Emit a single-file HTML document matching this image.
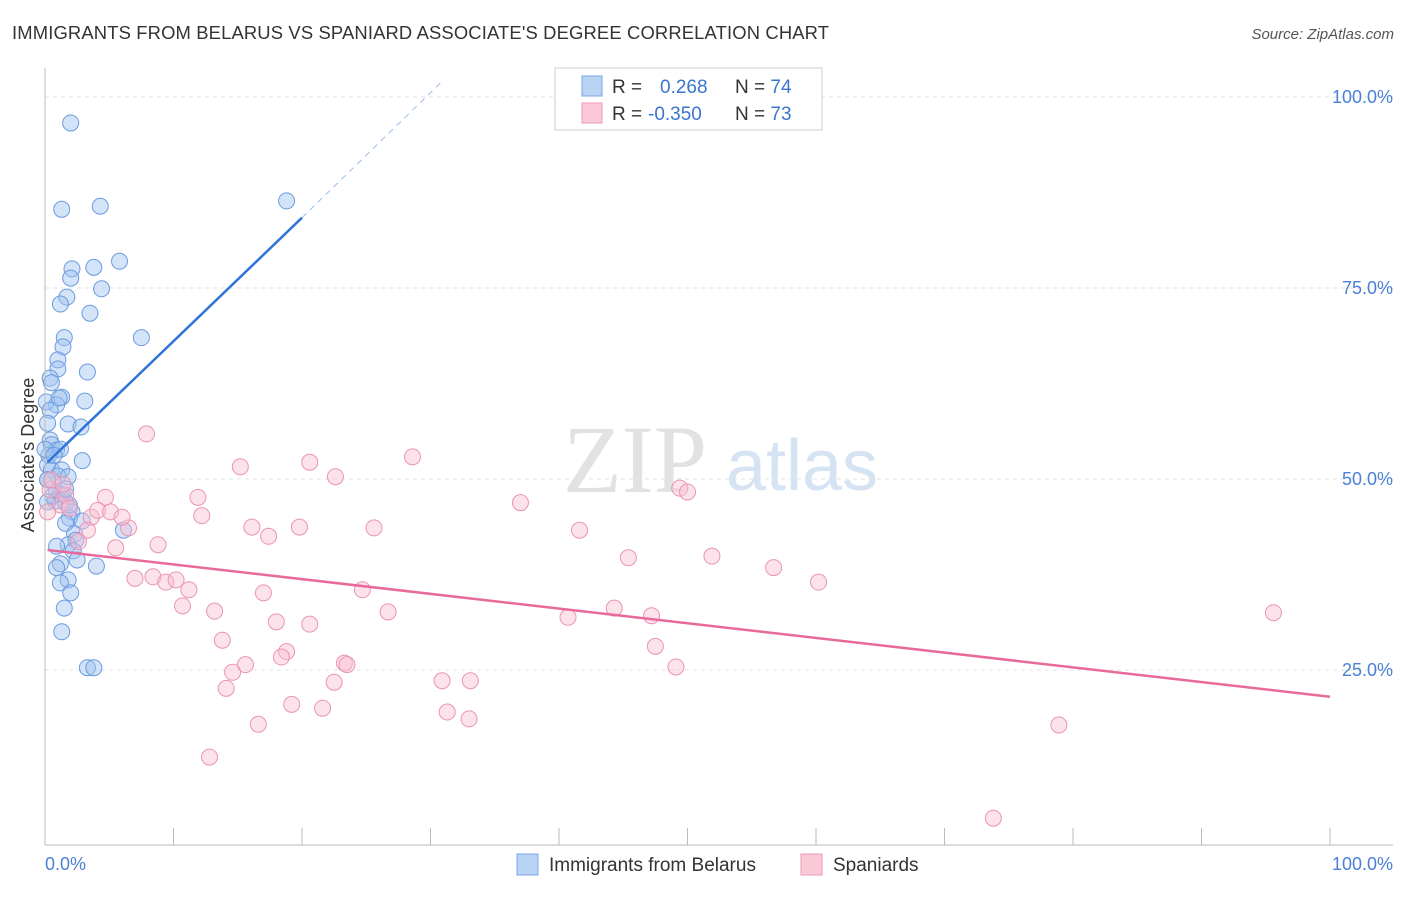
<!DOCTYPE html>
<html><head><meta charset="utf-8"><style>
body{margin:0;background:#fff;font-family:"Liberation Sans",sans-serif}
</style></head><body>
<svg id="chart" width="1406" height="892" font-family="Liberation Sans, sans-serif">
<text x="12" y="39" font-size="18.4" letter-spacing="0.15" fill="#333">IMMIGRANTS FROM BELARUS VS SPANIARD ASSOCIATE'S DEGREE CORRELATION CHART</text>
<text x="1394" y="39" font-size="15" fill="#555" font-style="italic" text-anchor="end">Source: ZipAtlas.com</text>
<text x="635" y="492" font-size="96" fill="#e2e2e2" font-family="Liberation Serif, serif" text-anchor="middle">ZIP</text>
<text x="802" y="490" font-size="72" fill="#d6e3f3" text-anchor="middle">atlas</text>
<g id="grid"></g>
<g id="marks"></g>
<line x1="45" y1="845" x2="1393" y2="845" stroke="#bbb"/>
<line x1="45" y1="68" x2="45" y2="845" stroke="#bbb"/>
<text x="34" y="455" font-size="18" fill="#333" text-anchor="middle" transform="rotate(-90 34 455)">Associate's Degree</text>
<text x="45" y="870" font-size="18" fill="#4a80d6">0.0%</text>
<text x="1393" y="870" font-size="18" fill="#4a80d6" text-anchor="end">100.0%</text>
<rect x="555" y="68" width="267" height="62" fill="#fff" stroke="#ccc"/>
<rect x="582" y="76" width="20" height="20" fill="#b9d3f5" stroke="#7aa6e6"/>
<rect x="582" y="103" width="20" height="20" fill="#f9c9d8" stroke="#ee9ab5"/>
<text x="612" y="93" font-size="19" fill="#333">R = <tspan fill="#3a75d0" x="660">0.268</tspan><tspan x="735" fill="#333">N = </tspan><tspan fill="#3a75d0">74</tspan></text>
<text x="612" y="120" font-size="19" fill="#333">R = <tspan fill="#3a75d0" x="648">-0.350</tspan><tspan x="735" fill="#333">N = </tspan><tspan fill="#3a75d0">73</tspan></text>
<rect x="517" y="854" width="21" height="21" fill="#b9d3f5" stroke="#7aa6e6"/>
<text x="549" y="871" font-size="19" fill="#333">Immigrants from Belarus</text>
<rect x="801" y="854" width="21" height="21" fill="#f9c9d8" stroke="#ee9ab5"/>
<text x="833" y="871" font-size="19" fill="#333">Spaniards</text>
</svg>
<script>
const yTicks=[25,50,75,100];
const xTicks=[0,10,20,30,40,50,60,70,80,90,100];
const bluePx=[[71,123],[62,209],[100,206],[287,201],[72,269],[94,267],[119,261],[71,278],[67,297],[60,304],[102,289],[90,313],[64,338],[142,338],[63,347],[58,360],[58,369],[88,372],[50,378],[52,383],[85,401],[62,397],[57,405],[46,402],[50,410],[48,423],[68,424],[81,427],[50,440],[52,445],[57,450],[61,449],[49,455],[82,461],[47,465],[52,470],[62,470],[58,476],[68,477],[48,480],[57,491],[60,494],[63,495],[55,501],[65,503],[72,512],[69,518],[82,521],[66,523],[124,530],[74,534],[76,540],[68,545],[56,546],[73,551],[77,560],[60,564],[57,568],[96,566],[68,580],[61,583],[71,593],[64,608],[62,632],[87,668],[94,668],[47,480],[53,496],[48,502],[45,449],[70,505],[66,489],[54,455],[59,398]];
const pinkPx=[[147,434],[240,467],[310,462],[336,477],[413,457],[520,503],[580,530],[680,488],[688,492],[105,497],[198,497],[202,516],[252,527],[268,536],[299,527],[374,528],[628,558],[712,556],[773,568],[818,582],[1274,613],[128,528],[116,548],[158,545],[135,578],[153,577],[166,582],[176,580],[189,590],[183,606],[215,611],[263,593],[362,590],[388,612],[568,617],[614,608],[651,616],[656,646],[676,667],[222,640],[276,622],[310,624],[286,652],[281,657],[245,665],[232,672],[226,688],[334,682],[344,663],[347,665],[442,681],[470,681],[292,704],[322,708],[258,724],[447,712],[469,719],[210,757],[1059,725],[993,818],[91,517],[98,510],[110,512],[122,517],[87,530],[78,542],[60,505],[65,495],[70,508],[50,490],[48,512],[52,480],[63,484]];
const blueX=bluePx.map(p=>+((p[0]-45)/12.85).toFixed(1));
const blueY=bluePx.map(p=>+((861-p[1])/7.64).toFixed(1));
const pinkX=pinkPx.map(p=>+((p[0]-45)/12.85).toFixed(1));
const pinkY=pinkPx.map(p=>+((861-p[1])/7.64).toFixed(1));
const blueTrend=[[0.2,52.2],[20,84.2]];
const blueTrendExt=[[20,84.2],[31,102.2]];
const pinkTrend=[[0.2,40.7],[100,21.5]];
const sx=v=>45+v*12.85, sy=v=>861-v*7.64;
const NS="http://www.w3.org/2000/svg";
const grid=document.getElementById('grid'), marks=document.getElementById('marks');
function mk(tag,attrs,parent){const e=document.createElementNS(NS,tag);for(const k in attrs)e.setAttribute(k,attrs[k]);parent.appendChild(e);return e;}
yTicks.forEach(t=>{
 const l=mk('line',{x1:45,x2:1393,y1:sy(t),y2:sy(t),stroke:'#e2e2e2','stroke-dasharray':'4 4'},grid);
 
 
 const tx=mk('text',{x:1393,y:sy(t)+6,'font-size':18,fill:'#4a80d6','text-anchor':'end'},grid);
 tx.textContent=t.toFixed(1)+'%';
 
 
});
xTicks.forEach(t=>{
 const l=mk('line',{x1:sx(t),x2:sx(t),y1:828,y2:845,stroke:'#bbb'},grid);
 
 
});
blueX.forEach((x,i)=>{
 const c=mk('circle',{cx:sx(x),cy:sy(blueY[i]),r:8,fill:'rgba(160,195,240,0.45)',stroke:'#6b9be0','stroke-width':1},marks);
 
 
});
pinkX.forEach((x,i)=>{
 const c=mk('circle',{cx:sx(x),cy:sy(pinkY[i]),r:8,fill:'rgba(248,190,210,0.45)',stroke:'#eb94b2','stroke-width':1},marks);
 
 
});
let l1=mk('line',{x1:sx(blueTrend[0][0]),y1:sy(blueTrend[0][1]),x2:sx(blueTrend[1][0]),y2:sy(blueTrend[1][1]),stroke:'#2f74d8','stroke-width':2.5},marks);


let l2=mk('line',{x1:sx(blueTrendExt[0][0]),y1:sy(blueTrendExt[0][1]),x2:sx(blueTrendExt[1][0]),y2:sy(blueTrendExt[1][1]),stroke:'#9bbce8','stroke-width':1,'stroke-dasharray':'6 5'},marks);


let l3=mk('line',{x1:sx(pinkTrend[0][0]),y1:sy(pinkTrend[0][1]),x2:sx(pinkTrend[1][0]),y2:sy(pinkTrend[1][1]),stroke:'#e8699a','stroke-width':2.5},marks);


</script>
</body></html>
